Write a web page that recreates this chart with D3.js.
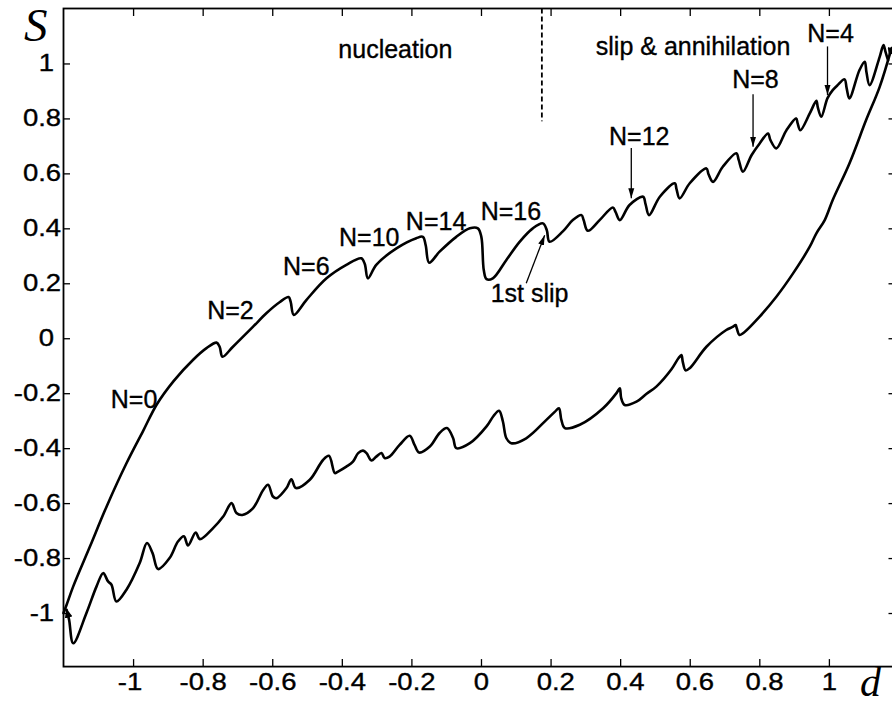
<!DOCTYPE html>
<html>
<head>
<meta charset="utf-8">
<script src="https://cdn.jsdelivr.net/npm/d3@7"></script>
<style>
  body { margin: 0; background: #fff; }
  svg { display: block; }
  .tick text { font-family: "Liberation Sans", Arial, sans-serif; font-size: 23.5px; fill: #000;
               stroke: #000; stroke-width: 0.35px; }
  .tick line { stroke: #000; stroke-width: 1.3; }
</style>
</head>
<body>
<svg id="chart" width="892" height="706"></svg>
<script>
// Loading branch: displacement d increasing, stress S with slip drops
const loadingBranch = [
  [-1.2,-1.0],[-1.191,-0.970],[-1.172,-0.903],[-1.124,-0.758],[-1.076,-0.612],
  [-1.019,-0.455],[-0.971,-0.337],[-0.932,-0.241],[-0.883,-0.155],
  [-0.828,-0.079],[-0.789,-0.036],[-0.760,-0.016],[-0.751,-0.032],[-0.743,-0.067],[-0.713,-0.031],
  [-0.655,0.042],[-0.617,0.091],[-0.578,0.132],[-0.553,0.150],[-0.547,0.132],[-0.538,0.085],
  [-0.502,0.139],[-0.444,0.218],[-0.387,0.267],[-0.344,0.291],[-0.334,0.270],[-0.325,0.218],
  [-0.301,0.267],[-0.243,0.327],[-0.186,0.364],[-0.167,0.369],[-0.159,0.339],[-0.149,0.275],
  [-0.119,0.315],[-0.071,0.369],[-0.032,0.400],[-0.009,0.400],[0.001,0.369],[0.008,0.248],
  [0.016,0.215],[0.034,0.218],[0.073,0.285],[0.111,0.351],[0.149,0.400],[0.178,0.418],
  [0.189,0.394],[0.197,0.351],[0.236,0.390],[0.264,0.430],[0.289,0.448],[0.295,0.430],
  [0.307,0.391],[0.341,0.430],[0.379,0.476],[0.387,0.459],[0.399,0.430],[0.427,0.485],
  [0.466,0.515],[0.473,0.488],[0.483,0.448],[0.514,0.515],[0.557,0.564],[0.562,0.543],
  [0.571,0.509],[0.600,0.564],[0.648,0.618],[0.654,0.597],[0.667,0.569],[0.695,0.624],
  [0.734,0.673],[0.741,0.648],[0.753,0.606],[0.778,0.667],[0.801,0.709],[0.825,0.745],
  [0.832,0.721],[0.849,0.691],[0.878,0.757],[0.906,0.800],[0.910,0.783],[0.918,0.757],
  [0.945,0.818],[0.964,0.864],[0.968,0.841],[0.978,0.806],[0.996,0.874],[1.011,0.903],
  [1.025,0.921],[1.045,0.942],[1.051,0.910],[1.059,0.873],[1.088,0.976],[1.103,1.006],
  [1.108,0.968],[1.117,0.921],[1.146,1.024],[1.157,1.067],[1.163,1.041],[1.170,1.012]
];

// Unloading branch: displacement d decreasing back to the start
const unloadingBranch = [
  [1.180,1.056],[1.146,0.915],[1.107,0.794],[1.059,0.636],[1.011,0.503],[0.988,0.430],
  [0.964,0.382],[0.945,0.333],[0.897,0.236],[0.849,0.151],[0.801,0.079],[0.753,0.018],
  [0.743,0.012],[0.735,0.037],[0.732,0.048],[0.723,0.041],[0.705,0.030],[0.648,-0.031],
  [0.600,-0.109],[0.588,-0.117],[0.580,-0.086],[0.576,-0.061],[0.568,-0.072],[0.548,-0.112],
  [0.504,-0.176],[0.475,-0.203],[0.447,-0.231],[0.413,-0.243],[0.403,-0.218],[0.399,-0.182],
  [0.390,-0.199],[0.351,-0.255],[0.284,-0.315],[0.241,-0.327],[0.231,-0.297],[0.224,-0.255],
  [0.212,-0.268],[0.188,-0.297],[0.130,-0.364],[0.087,-0.382],[0.073,-0.364],[0.063,-0.303],
  [0.052,-0.264],[0.036,-0.283],[0.016,-0.321],[-0.032,-0.382],[-0.071,-0.400],[-0.080,-0.364],
  [-0.098,-0.327],[-0.119,-0.345],[-0.147,-0.394],[-0.178,-0.416],[-0.191,-0.388],[-0.205,-0.355],
  [-0.234,-0.388],[-0.263,-0.431],[-0.277,-0.436],[-0.286,-0.418],[-0.301,-0.431],[-0.315,-0.445],
  [-0.329,-0.418],[-0.339,-0.409],[-0.353,-0.418],[-0.368,-0.449],[-0.387,-0.467],[-0.412,-0.486],
  [-0.420,-0.491],[-0.437,-0.428],[-0.454,-0.443],[-0.492,-0.515],[-0.532,-0.545],[-0.545,-0.513],
  [-0.559,-0.545],[-0.588,-0.582],[-0.598,-0.576],[-0.612,-0.533],[-0.626,-0.552],[-0.655,-0.618],
  [-0.686,-0.643],[-0.703,-0.636],[-0.717,-0.600],[-0.741,-0.649],[-0.770,-0.691],[-0.808,-0.731],
  [-0.820,-0.707],[-0.842,-0.754],[-0.854,-0.721],[-0.871,-0.740],[-0.895,-0.800],[-0.928,-0.840],
  [-0.944,-0.782],[-0.960,-0.745],[-0.981,-0.818],[-1.019,-0.915],[-1.048,-0.958],[-1.062,-0.897],
  [-1.072,-0.885],[-1.086,-0.855],[-1.105,-0.903],[-1.134,-1.000],[-1.172,-1.110],[-1.184,-1.024],
  [-1.191,-0.988]
];

// Tick values and their printed labels
const xTicks = [-1, -0.8, -0.6, -0.4, -0.2, 0, 0.2, 0.4, 0.6, 0.8, 1];
const xTickLabels = ["-1", "-0.8", "-0.6", "-0.4", "-0.2", "0", "0.2", "0.4", "0.6", "0.8", "1"];
const yTicks = [-1, -0.8, -0.6, -0.4, -0.2, 0, 0.2, 0.4, 0.6, 0.8, 1];
const yTickLabels = ["-1", "-0.8", "-0.6", "-0.4", "-0.2", "0", "0.2", "0.4", "0.6", "0.8", "1"];

// Text notes, anchored at (d, S)
const noteText = ["N=0", "N=2", "N=6", "N=10", "N=14", "N=16", "1st slip", "N=12", "N=8", "N=4",
                  "nucleation", "slip & annihilation"];
const noteD = [-1.064, -0.787, -0.569, -0.408, -0.216, -0.001, 0.028, 0.368, 0.722, 0.938, -0.410, 0.330];
const noteS = [-0.253, 0.070, 0.230, 0.334, 0.394, 0.430, 0.132, 0.703, 0.909, 1.079, 1.019, 1.030];

// Pointer arrows (tail -> head) in (d, S)
const pointerFromD = [0.996, 0.782, 0.432, 0.130];
const pointerFromS = [1.062, 0.888, 0.692, 0.200];
const pointerToD = [0.996, 0.782, 0.432, 0.183];
const pointerToS = [0.885, 0.697, 0.509, 0.375];

// Boundary between the nucleation and slip regimes
const regimeBoundaryD = 0.175;
const regimeBoundaryTopS = 1.2;
const regimeBoundaryBottomS = 0.79;

const svg = d3.select("#chart");
const plotLeft = 63.5, plotRight = 895, plotTop = 8.5, plotBottom = 666.6;
const labelStretch = 1.17;

const x = d3.scaleLinear().domain([-1.2, 1.19]).range([plotLeft, plotRight]);
const y = d3.scaleLinear().domain([-1.195, 1.2]).range([plotBottom, plotTop]);

const defs = svg.append("defs");
defs.append("marker")
  .attr("id", "head")
  .attr("markerUnits", "userSpaceOnUse")
  .attr("markerWidth", 11).attr("markerHeight", 7)
  .attr("refX", 10).attr("refY", 3.5)
  .attr("orient", "auto")
  .append("path").attr("d", "M0,0.5 L10,3.5 L0,6.5 Z").attr("fill", "#000");
defs.append("marker")
  .attr("id", "loopHead")
  .attr("markerUnits", "userSpaceOnUse")
  .attr("markerWidth", 10).attr("markerHeight", 8)
  .attr("refX", 8).attr("refY", 4)
  .attr("orient", "auto")
  .append("path").attr("d", "M0,0 L9,4 L0,8 Z").attr("fill", "#000");
defs.append("marker")
  .attr("id", "loopTail")
  .attr("markerUnits", "userSpaceOnUse")
  .attr("markerWidth", 10).attr("markerHeight", 8)
  .attr("refX", 0).attr("refY", 4)
  .attr("orient", "auto")
  .append("path").attr("d", "M0,0 L9,4 L0,8 Z").attr("fill", "#000");

// Axes with inward ticks on all four sides
const xAxis = d3.axisBottom(x).tickValues(xTicks)
  .tickFormat((d, i) => xTickLabels[i]).tickSizeInner(-7.5).tickSizeOuter(0).tickPadding(7);
const gx = svg.append("g").attr("transform", `translate(0,${plotBottom})`).call(xAxis);
gx.select(".domain").remove();
gx.selectAll(".tick text")
  .attr("dx", (d, i) => {
    const s = xTickLabels[i];
    if (s === "-1") return -3;
    if (d > 0 && s.length > 1) return 4;
    return 0;
  })
  .attr("transform", `scale(${labelStretch},1)`);

const yAxis = d3.axisLeft(y).tickValues(yTicks)
  .tickFormat((d, i) => yTickLabels[i]).tickSizeInner(-6.5).tickSizeOuter(0).tickPadding(2);
const gy = svg.append("g").attr("transform", `translate(${plotLeft},0)`).call(yAxis);
gy.select(".domain").remove();
gy.selectAll(".tick text")
  .attr("dx", d => (Number.isInteger(d) ? -6 : 0))
  .attr("transform", `scale(${labelStretch},1)`);

const gxTop = svg.append("g").attr("transform", `translate(0,${plotTop})`)
  .call(d3.axisTop(x).tickValues(xTicks).tickFormat("").tickSizeInner(-7.5).tickSizeOuter(0));
gxTop.select(".domain").remove();
const gyRight = svg.append("g").attr("transform", `translate(${plotRight},0)`)
  .call(d3.axisRight(y).tickValues(yTicks).tickFormat("").tickSizeInner(-6.5).tickSizeOuter(0));
gyRight.select(".domain").remove();

svg.append("rect")
  .attr("x", plotLeft).attr("y", plotTop)
  .attr("width", plotRight - plotLeft).attr("height", plotBottom - plotTop)
  .attr("fill", "none").attr("stroke", "#000").attr("stroke-width", 1.8);

// Hysteresis loop
const line = d3.line()
  .x(p => x(p[0])).y(p => y(p[1]))
  .curve(d3.curveCatmullRom.alpha(0.5));

svg.append("path")
  .datum(loadingBranch)
  .attr("d", line)
  .attr("fill", "none").attr("stroke", "#000")
  .attr("stroke-width", 2.6).attr("stroke-linejoin", "round").attr("stroke-linecap", "round");

svg.append("path")
  .datum(unloadingBranch)
  .attr("d", line)
  .attr("fill", "none").attr("stroke", "#000")
  .attr("stroke-width", 2.6).attr("stroke-linejoin", "round").attr("stroke-linecap", "round")
  .attr("marker-start", "url(#loopTail)")
  .attr("marker-end", "url(#loopHead)");

// Regime boundary
svg.append("line")
  .attr("x1", x(regimeBoundaryD)).attr("x2", x(regimeBoundaryD))
  .attr("y1", y(regimeBoundaryTopS)).attr("y2", y(regimeBoundaryBottomS))
  .attr("stroke", "#000").attr("stroke-width", 1.8).attr("stroke-dasharray", "5,3");

// Pointer arrows
svg.append("g").selectAll("line")
  .data(pointerFromD.map((d, i) => i))
  .join("line")
  .attr("x1", i => x(pointerFromD[i])).attr("y1", i => y(pointerFromS[i]))
  .attr("x2", i => x(pointerToD[i])).attr("y2", i => y(pointerToS[i]))
  .attr("stroke", "#000").attr("stroke-width", 1.3)
  .attr("marker-end", "url(#head)");

// Notes
svg.append("g").selectAll("text")
  .data(noteText)
  .join("text")
  .attr("x", (t, i) => x(noteD[i]))
  .attr("y", (t, i) => y(noteS[i]))
  .attr("font-family", "'Liberation Sans', Arial, sans-serif")
  .attr("font-size", 25)
  .attr("fill", "#000")
  .attr("stroke", "#000").attr("stroke-width", 0.35)
  .text(t => t);

// Axis titles
svg.append("text")
  .attr("x", 24).attr("y", 41)
  .attr("font-family", "'Liberation Serif', 'Times New Roman', serif")
  .attr("font-style", "italic")
  .attr("font-size", 47)
  .text("S");
svg.append("text")
  .attr("x", 860).attr("y", 696)
  .attr("font-family", "'Liberation Serif', 'Times New Roman', serif")
  .attr("font-style", "italic")
  .attr("font-size", 42)
  .text("d");
</script>
</body>
</html>
